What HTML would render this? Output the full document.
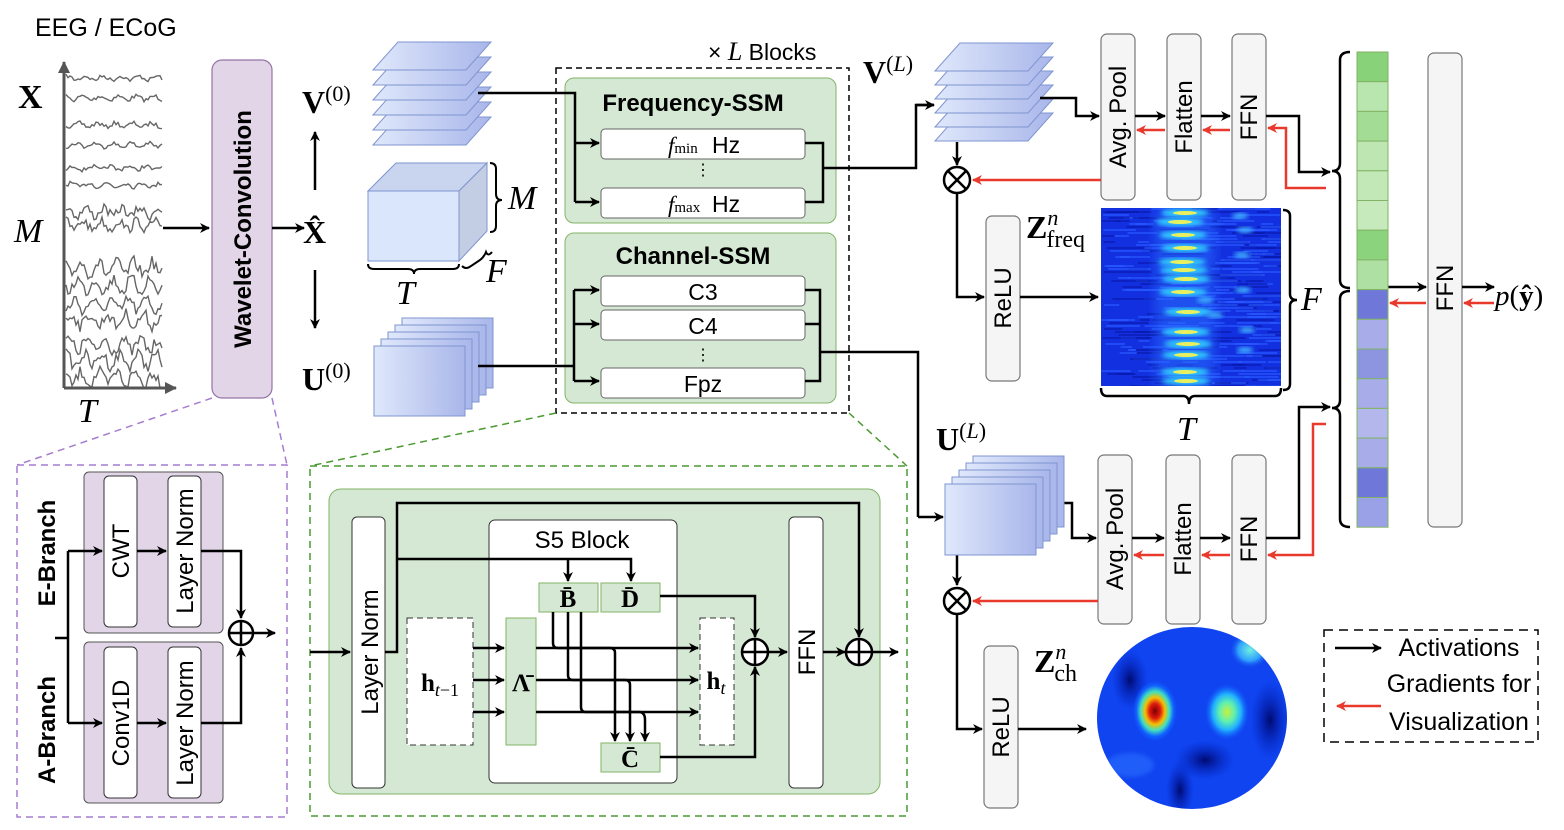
<!DOCTYPE html>
<html><head><meta charset="utf-8"><style>
html,body{margin:0;padding:0;background:#fff;}
svg{display:block;}
.s{font-family:"Liberation Sans",sans-serif;}
.m{font-family:"Liberation Serif",serif;}
</style></head><body>
<svg id="svg" width="1564" height="830" viewBox="0 0 1564 830" xmlns="http://www.w3.org/2000/svg">
<defs>
<marker id="a" markerWidth="10" markerHeight="10" refX="9" refY="5" orient="auto" markerUnits="userSpaceOnUse"><path d="M0,0 L10,5 L0,10 L3,5 z" fill="#000"/></marker>
<marker id="r" markerWidth="10" markerHeight="10" refX="9" refY="5" orient="auto" markerUnits="userSpaceOnUse"><path d="M0,0 L10,5 L0,10 L3,5 z" fill="#e8392c"/></marker>
<marker id="g" markerWidth="12" markerHeight="12" refX="11" refY="6" orient="auto" markerUnits="userSpaceOnUse"><path d="M0,0 L12,6 L0,12 z" fill="#555"/></marker>
<linearGradient id="bl" x1="0" x2="1" y1="0" y2="0"><stop offset="0" stop-color="#dfe8fb"/><stop offset="1" stop-color="#a9b6ea"/></linearGradient>
<filter id="bz"><feGaussianBlur stdDeviation="2.5"/></filter>
<filter id="bz2"><feGaussianBlur stdDeviation="6"/></filter>
<radialGradient id="hot"><stop offset="0" stop-color="#7a0000"/><stop offset="0.25" stop-color="#e01a10"/><stop offset="0.45" stop-color="#f5c000"/><stop offset="0.65" stop-color="#40e0c0"/><stop offset="0.85" stop-color="#1060ff"/><stop offset="1" stop-color="#1060ff" stop-opacity="0"/></radialGradient>
<radialGradient id="warm"><stop offset="0" stop-color="#c8f040"/><stop offset="0.35" stop-color="#60f0b0"/><stop offset="0.65" stop-color="#20b0ff"/><stop offset="1" stop-color="#1060ff" stop-opacity="0"/></radialGradient>
<radialGradient id="cy"><stop offset="0" stop-color="#70f0e0"/><stop offset="0.6" stop-color="#30a0ff"/><stop offset="1" stop-color="#1050f0" stop-opacity="0"/></radialGradient>
<radialGradient id="dk"><stop offset="0" stop-color="#000a70"/><stop offset="1" stop-color="#0020c0" stop-opacity="0"/></radialGradient>
<clipPath id="cp"><ellipse cx="1192" cy="718" rx="95" ry="91"/></clipPath>
<clipPath id="hc"><rect x="1101" y="208" width="180" height="178"/></clipPath>
</defs>

<!-- EEG -->
<text x="35" y="36" class="s" font-size="25">EEG / ECoG</text>
<g id="eeg" fill="none" stroke="#666" stroke-width="1.4"></g>
<line x1="64" y1="388" x2="64" y2="62" stroke="#555" stroke-width="3" marker-end="url(#g)"/>
<line x1="64" y1="388" x2="176" y2="388" stroke="#555" stroke-width="3" marker-end="url(#g)"/>
<text x="18" y="108" class="m" font-size="34" font-weight="bold">X</text>
<text x="14" y="242" class="m" font-size="34" font-style="italic">M</text>
<text x="78" y="422" class="m" font-size="34" font-style="italic">T</text>

<!-- Wavelet -->
<rect x="212" y="60" width="60" height="338" rx="10" fill="#e1d5e7" stroke="#9673a6" stroke-width="1.2"/>
<text transform="translate(251,229) rotate(-90)" text-anchor="middle" class="s" font-size="24" font-weight="bold">Wavelet-Convolution</text>
<line x1="163" y1="228" x2="209" y2="228" stroke="#000" stroke-width="2.5" marker-end="url(#a)"/>
<line x1="272" y1="228" x2="304" y2="228" stroke="#000" stroke-width="2.5" marker-end="url(#a)"/>
<text x="303" y="243" class="m" font-size="32" font-weight="bold">X̂</text>
<line x1="315" y1="190" x2="315" y2="132" stroke="#000" stroke-width="2.5" marker-end="url(#a)"/>
<line x1="315" y1="270" x2="315" y2="328" stroke="#000" stroke-width="2.5" marker-end="url(#a)"/>
<text x="302" y="113" class="m" font-size="32" font-weight="bold">V<tspan font-weight="normal" font-size="22" dy="-12">(0)</tspan></text>
<text x="302" y="390" class="m" font-size="32" font-weight="bold">U<tspan font-weight="normal" font-size="22" dy="-12">(0)</tspan></text>

<g id="v0" fill="url(#bl)" stroke="#7f95d0" stroke-width="1"></g>
<rect x="368" y="191" width="91" height="70" fill="#dae6fb" stroke="#7f95d0"/>
<polygon points="368,191 396,163 487,163 459,191" fill="#c9d4ee" stroke="#7f95d0"/>
<polygon points="459,191 487,163 487,231 459,261" fill="#c3cde3" stroke="#7f95d0"/>
<path d="M490,163 q6,0 6,6 v25 q0,6 6,6 q-6,0 -6,6 v20 q0,6 -6,6" fill="none" stroke="#000" stroke-width="2"/>
<path d="M368,264 q0,5 6,5 h34 q6,0 6,5 q0,-5 6,-5 h33 q6,0 6,-5" fill="none" stroke="#000" stroke-width="2"/>
<path d="M462,266 q4,4 9,0 l9,-6 q4,-3 6,-8 q2,5 6,0" fill="none" stroke="#000" stroke-width="2"/>
<text x="508" y="209" class="m" font-size="34" font-style="italic">M</text>
<text x="486" y="282" class="m" font-size="34" font-style="italic">F</text>
<text x="396" y="304" class="m" font-size="34" font-style="italic">T</text>
<g id="u0" fill="url(#bl)" stroke="#7f95d0" stroke-width="1"></g>

<text x="708" y="60" class="s" font-size="23">× <tspan class="m" font-style="italic" font-size="26">L</tspan> Blocks</text>
<rect x="556" y="68" width="293" height="345" fill="none" stroke="#000" stroke-width="1.5" stroke-dasharray="6,4"/>
<rect x="565" y="78" width="271" height="145" rx="9" fill="#d5e8d4" stroke="#82b366"/>
<text x="693" y="111" text-anchor="middle" class="s" font-size="24" font-weight="bold">Frequency-SSM</text>
<rect x="601" y="129" width="204" height="30" rx="4" fill="#fff" stroke="#666"/>
<rect x="601" y="188" width="204" height="30" rx="4" fill="#fff" stroke="#666"/>
<text x="668" y="153" class="m" font-size="23" font-style="italic">f<tspan font-style="normal" font-size="15">min</tspan></text><text x="712" y="153" class="s" font-size="23">Hz</text>
<text x="668" y="212" class="m" font-size="23" font-style="italic">f<tspan font-style="normal" font-size="15">max</tspan></text><text x="712" y="212" class="s" font-size="23">Hz</text>
<text x="703" y="175" text-anchor="middle" class="s" font-size="16">⋮</text>
<rect x="565" y="233" width="271" height="170" rx="9" fill="#d5e8d4" stroke="#82b366"/>
<text x="693" y="264" text-anchor="middle" class="s" font-size="24" font-weight="bold">Channel-SSM</text>
<rect x="601" y="276" width="204" height="30" rx="4" fill="#fff" stroke="#666"/>
<rect x="601" y="310" width="204" height="30" rx="4" fill="#fff" stroke="#666"/>
<rect x="601" y="368" width="204" height="30" rx="4" fill="#fff" stroke="#666"/>
<text x="703" y="300" text-anchor="middle" class="s" font-size="23">C3</text>
<text x="703" y="334" text-anchor="middle" class="s" font-size="23">C4</text>
<text x="703" y="360" text-anchor="middle" class="s" font-size="16">⋮</text>
<text x="703" y="392" text-anchor="middle" class="s" font-size="23">Fpz</text>
<g fill="none" stroke="#000" stroke-width="2.5">
<path d="M478,93 H575 V202"/>
<path d="M575,143 H599" marker-end="url(#a)"/><path d="M575,202 H599" marker-end="url(#a)"/>
<path d="M805,143 H823 V202 H805 M823,168 H916 V105 H934" /><path d="M916,105 H934" marker-end="url(#a)"/>
<path d="M478,366 H574 M574,290 V381"/>
<path d="M574,290 H599" marker-end="url(#a)"/><path d="M574,324 H599" marker-end="url(#a)"/><path d="M574,381 H599" marker-end="url(#a)"/>
<path d="M805,290 H820 V381 H805 M805,324 H820 M820,352 H918 V517"/><path d="M918,517 H943" marker-end="url(#a)"/>
</g>

<text x="863" y="83" class="m" font-size="32" font-weight="bold">V<tspan font-weight="normal" font-size="22" dy="-12">(<tspan font-style="italic">L</tspan>)</tspan></text>
<g id="vl" fill="url(#bl)" stroke="#7f95d0" stroke-width="1"></g>
<g fill="#f5f5f5" stroke="#777" stroke-width="1.2">
<rect x="1101" y="34" width="34" height="166" rx="6"/><rect x="1167" y="34" width="34" height="166" rx="6"/><rect x="1232" y="34" width="34" height="166" rx="6"/>
<rect x="986" y="216" width="34" height="165" rx="6"/>
<rect x="1098" y="455" width="34" height="169" rx="6"/><rect x="1166" y="455" width="34" height="169" rx="6"/><rect x="1232" y="455" width="34" height="169" rx="6"/>
<rect x="984" y="646" width="34" height="162" rx="6"/>
<rect x="1428" y="53" width="34" height="474" rx="6"/>
</g>
<g class="s" font-size="24" text-anchor="middle">
<text transform="translate(1126,117) rotate(-90)">Avg. Pool</text>
<text transform="translate(1192,117) rotate(-90)">Flatten</text>
<text transform="translate(1257,117) rotate(-90)">FFN</text>
<text transform="translate(1011,298) rotate(-90)">ReLU</text>
<text transform="translate(1123,539) rotate(-90)">Avg. Pool</text>
<text transform="translate(1191,539) rotate(-90)">Flatten</text>
<text transform="translate(1257,539) rotate(-90)">FFN</text>
<text transform="translate(1009,727) rotate(-90)">ReLU</text>
<text transform="translate(1453,288) rotate(-90)">FFN</text>
</g>
<g fill="none" stroke="#000" stroke-width="2.5">
<path d="M1040,98 H1076 V116 H1099" marker-end="url(#a)"/>
<path d="M1135,116 H1165" marker-end="url(#a)"/><path d="M1201,116 H1230" marker-end="url(#a)"/>
<path d="M1266,116 H1299 V172 H1330" marker-end="url(#a)"/>
<path d="M957,142 V165" marker-end="url(#a)"/>
<path d="M957,194 V297 H984" marker-end="url(#a)"/>
<path d="M1020,297 H1098" marker-end="url(#a)"/>
<path d="M1049,503 H1072 V538 H1096" marker-end="url(#a)"/>
<path d="M1132,538 H1164" marker-end="url(#a)"/><path d="M1200,538 H1230" marker-end="url(#a)"/>
<path d="M1266,538 H1299 V407 H1330" marker-end="url(#a)"/>
<path d="M957,555 V585" marker-end="url(#a)"/>
<path d="M957,615 V729 H982" marker-end="url(#a)"/>
<path d="M1018,729 H1086" marker-end="url(#a)"/>
<path d="M1388,287 H1426" marker-end="url(#a)"/>
<path d="M1462,287 H1494" marker-end="url(#a)"/>
</g>
<g fill="none" stroke="#e8392c" stroke-width="2.5">
<path d="M1165,130 H1137" marker-end="url(#r)"/><path d="M1230,130 H1203" marker-end="url(#r)"/>
<path d="M1326,188 H1286 V128 H1268" marker-end="url(#r)"/>
<path d="M1101,180 H973" marker-end="url(#r)"/>
<path d="M1164,555 H1134" marker-end="url(#r)"/><path d="M1230,555 H1202" marker-end="url(#r)"/>
<path d="M1326,424 H1313 V555 H1268" marker-end="url(#r)"/>
<path d="M1098,601 H973" marker-end="url(#r)"/>
<path d="M1426,303 H1390" marker-end="url(#r)"/>
<path d="M1494,303 H1464" marker-end="url(#r)"/>
</g>
<g fill="#fff" stroke="#000" stroke-width="2.5">
<circle cx="957" cy="180" r="13"/><circle cx="957" cy="601" r="13"/>
</g>
<path d="M948,171 L966,189 M966,171 L948,189 M948,592 L966,610 M966,592 L948,610" stroke="#000" stroke-width="2.5"/>

<text x="1026" y="238" class="m" font-size="32" font-weight="bold">Z<tspan font-weight="normal" font-size="22" dy="-13" font-style="italic">n</tspan><tspan font-weight="normal" font-size="24" dx="-12" dy="22">freq</tspan></text>
<rect x="1101" y="208" width="180" height="178" fill="#1230e0"/>
<g id="hm" clip-path="url(#hc)"></g>
<path d="M1283,210 q7,0 7,6 v78 q0,6 7,6 q-7,0 -7,6 v78 q0,6 -7,6" fill="none" stroke="#000" stroke-width="2.5"/>
<text x="1301" y="310" class="m" font-size="34" font-style="italic">F</text>
<path d="M1101,388 q0,8 6,8 h76 q6,0 6,8 q0,-8 6,-8 h80 q6,0 6,-8" fill="none" stroke="#000" stroke-width="2.5"/>
<text x="1177" y="440" class="m" font-size="34" font-style="italic">T</text>

<g id="vec" stroke="#82b366" stroke-width="1"></g>
<path d="M1350,52 q-10,0 -10,8 v103 q0,8 -8,8 q8,0 8,8 v101 q0,8 10,8" fill="none" stroke="#000" stroke-width="2.5"/>
<path d="M1350,291 q-10,0 -10,8 v101 q0,8 -8,8 q8,0 8,8 v103 q0,8 10,8" fill="none" stroke="#000" stroke-width="2.5"/>
<text x="1495" y="305" class="m" font-size="29" font-style="italic">p<tspan font-style="normal">(</tspan><tspan font-style="normal" font-weight="bold">ŷ</tspan><tspan font-style="normal">)</tspan></text>

<text x="936" y="450" class="m" font-size="32" font-weight="bold">U<tspan font-weight="normal" font-size="22" dy="-12">(<tspan font-style="italic">L</tspan>)</tspan></text>
<g id="ul" fill="url(#bl)" stroke="#7f95d0" stroke-width="1"></g>

<text x="1034" y="672" class="m" font-size="32" font-weight="bold">Z<tspan font-weight="normal" font-size="22" dy="-13" font-style="italic">n</tspan><tspan font-weight="normal" font-size="24" dx="-12" dy="22">ch</tspan></text>
<g clip-path="url(#cp)">
<rect x="1090" y="620" width="210" height="200" fill="#1044f0"/>
<ellipse cx="1130" cy="680" rx="18" ry="30" fill="url(#dk)"/>
<ellipse cx="1270" cy="720" rx="20" ry="40" fill="url(#dk)"/>
<ellipse cx="1180" cy="790" rx="14" ry="30" fill="url(#dk)"/>
<ellipse cx="1205" cy="760" rx="30" ry="20" fill="url(#dk)"/>
<ellipse cx="1250" cy="650" rx="20" ry="18" fill="url(#cy)"/>
<ellipse cx="1130" cy="765" rx="24" ry="12" fill="#2a70ff" opacity=".6" filter="url(#bz)"/>
<ellipse cx="1155" cy="711" rx="22" ry="30" fill="url(#hot)"/>
<ellipse cx="1227" cy="712" rx="22" ry="28" fill="url(#warm)"/>
</g>

<rect x="1324" y="630" width="214" height="112" fill="none" stroke="#000" stroke-width="1.5" stroke-dasharray="9,6"/>
<line x1="1335" y1="648" x2="1381" y2="648" stroke="#000" stroke-width="2.5" marker-end="url(#a)"/>
<line x1="1381" y1="706" x2="1337" y2="706" stroke="#e8392c" stroke-width="2.5" marker-end="url(#r)"/>
<g class="s" font-size="25" text-anchor="middle">
<text x="1459" y="656">Activations</text>
<text x="1459" y="692">Gradients for</text>
<text x="1459" y="730">Visualization</text>
</g>

<g fill="none" stroke-width="1.5" stroke-dasharray="7,5">
<path d="M212,398 L17,465 M272,398 L287,465" stroke="#a67dd0"/>
<rect x="17" y="465" width="270" height="352" stroke="#a67dd0"/>
<path d="M556,413 L310,466 M849,413 L907,466" stroke="#4a9a30"/>
<rect x="310" y="466" width="597" height="350" stroke="#4a9a30"/>
</g>

<rect x="84" y="472" width="139" height="161" rx="5" fill="#e1d5e7" stroke="#555"/>
<rect x="84" y="642" width="139" height="161" rx="5" fill="#e1d5e7" stroke="#555"/>
<g fill="#fff" stroke="#333">
<rect x="104" y="476" width="33" height="151" rx="5"/><rect x="168" y="476" width="33" height="151" rx="5"/>
<rect x="104" y="647" width="33" height="151" rx="5"/><rect x="168" y="647" width="33" height="151" rx="5"/>
</g>
<g class="s" font-size="24" text-anchor="middle">
<text transform="translate(129,551) rotate(-90)">CWT</text>
<text transform="translate(193,551) rotate(-90)">Layer Norm</text>
<text transform="translate(129,723) rotate(-90)">Conv1D</text>
<text transform="translate(193,723) rotate(-90)">Layer Norm</text>
<text transform="translate(55,553) rotate(-90)" font-weight="bold">E-Branch</text>
<text transform="translate(55,730) rotate(-90)" font-weight="bold">A-Branch</text>
</g>
<g fill="none" stroke="#000" stroke-width="2.5">
<path d="M55,638 H68 M68,551 V723"/>
<path d="M68,551 H102" marker-end="url(#a)"/><path d="M68,723 H102" marker-end="url(#a)"/>
<path d="M137,551 H166" marker-end="url(#a)"/><path d="M137,723 H166" marker-end="url(#a)"/>
<path d="M201,551 H241 V618" marker-end="url(#a)"/><path d="M201,723 H241 V648" marker-end="url(#a)"/>
<path d="M254,633 H275" marker-end="url(#a)"/>
<circle cx="241" cy="633" r="12" fill="#fff"/>
<path d="M229,633 H253 M241,621 V645"/>
</g>

<rect x="329" y="489" width="551" height="305" rx="12" fill="#d5e8d4" stroke="#82b366"/>
<rect x="352" y="517" width="33" height="271" rx="5" fill="#fff" stroke="#333"/>
<rect x="789" y="517" width="34" height="271" rx="5" fill="#fff" stroke="#333"/>
<rect x="489" y="520" width="188" height="263" rx="6" fill="#fff" stroke="#333"/>
<text x="582" y="548" text-anchor="middle" class="s" font-size="24">S5 Block</text>
<rect x="407" y="618" width="66" height="127" fill="#fff" stroke="#333" stroke-dasharray="6,4"/>
<rect x="700" y="618" width="34" height="127" fill="#fff" stroke="#333" stroke-dasharray="6,4"/>
<g fill="#d5e8d4" stroke="#82b366">
<rect x="506" y="618" width="30" height="127"/>
<rect x="539" y="583" width="59" height="29"/><rect x="601" y="583" width="59" height="29"/>
<rect x="601" y="743" width="59" height="29"/>
</g>
<g class="s" font-size="24" text-anchor="middle">
<text transform="translate(378,652) rotate(-90)">Layer Norm</text>
<text transform="translate(815,652) rotate(-90)">FFN</text>
</g>
<g class="m" font-size="25" font-weight="bold" text-anchor="middle">
<text x="568" y="607">B̄</text><text x="630" y="607">D̄</text><text x="630" y="767">C̄</text>
<text x="521" y="691">Λ̄</text>
<text x="440" y="691">h<tspan font-weight="normal" font-style="italic" font-size="18" dy="5">t</tspan><tspan font-weight="normal" font-size="18">−1</tspan></text>
<text x="716" y="689">h<tspan font-weight="normal" font-style="italic" font-size="18" dy="5">t</tspan></text>
</g>
<g fill="none" stroke="#000" stroke-width="2.5">
<path d="M310,652 H350" marker-end="url(#a)"/>
<path d="M385,652 H397 V503 H859 V637" marker-end="url(#a)"/>
<path d="M397,559 H631 V581" marker-end="url(#a)"/>
<path d="M568,559 V581" marker-end="url(#a)"/>
<path d="M473,648 H504" marker-end="url(#a)"/><path d="M473,680 H504" marker-end="url(#a)"/><path d="M473,712 H504" marker-end="url(#a)"/>
<path d="M536,648 H698" marker-end="url(#a)"/><path d="M536,680 H698" marker-end="url(#a)"/><path d="M536,712 H698" marker-end="url(#a)"/>
<path d="M553,612 V643 q0,5 5,5 h52 q5,0 5,5 V741" marker-end="url(#a)"/>
<path d="M568,612 V675 q0,5 5,5 h52 q5,0 5,5 V741" marker-end="url(#a)"/>
<path d="M581,612 V707 q0,5 5,5 h53 q6,0 6,8 V741" marker-end="url(#a)"/>
<path d="M660,596 H755 V637" marker-end="url(#a)"/>
<path d="M660,757 H755 V667" marker-end="url(#a)"/>
<path d="M768,652 H787" marker-end="url(#a)"/>
<path d="M823,652 H845" marker-end="url(#a)"/>
<path d="M872,652 H898" marker-end="url(#a)"/>
<circle cx="755" cy="652" r="13" fill="#fff"/><path d="M742,652 H768 M755,639 V665"/>
<circle cx="859" cy="652" r="13" fill="#fff"/><path d="M846,652 H872 M859,639 V665"/>
</g>
</svg>
<script>
(function(){
var NS="http://www.w3.org/2000/svg";
function el(p,t,a){var e=document.createElementNS(NS,t);for(var k in a)e.setAttribute(k,a[k]);p.appendChild(e);return e;}
var seed=7;function rnd(){seed=(seed*16807)%2147483647;return (seed-1)/2147483646;}
var g=document.getElementById("eeg");
var ys=[78,98,125,145,168,185,212,225,268,285,305,320,345,360,378];
ys.forEach(function(y,i){var amp=i<6?4:(i<8?9:12);var d="";for(var x=66;x<=163;x+=2){var v=y+(Math.sin(x*0.35+i)*0.5+ (rnd()-0.5))*amp;d+=(x==66?"M":"L")+x+","+v.toFixed(1);}el(g,"path",{d:d});});
function slabs(id,x0,y0,n,dy,w,sk,h){var g=document.getElementById(id);for(var i=n-1;i>=0;i--){var y=y0+i*dy;el(g,"polygon",{points:[x0,y+h,x0+sk,y,x0+sk+w,y,x0+w,y+h].join(" ")});}}
slabs("v0",373,42,6,15,93,25,28);
slabs("vl",935,43,6,14,93,25,28);
function rects(id,bx,by,n,dx,w,h){var g=document.getElementById(id);for(var i=n-1;i>=0;i--){el(g,"rect",{x:bx+i*dx,y:by-i*dx,width:w,height:h});}}
rects("u0",374,346,5,7,91,70);
rects("ul",945,484,5,7,91,71);
var hm=document.getElementById("hm");
for(var y=208;y<386;y+=3){for(var k=0;k<5;k++){var x=1101+rnd()*170;el(hm,"rect",{x:x,y:y,width:10+rnd()*40,height:2,fill:rnd()<0.6?"#2a5cff":"#0818a8",opacity:0.6});}}
el(hm,"rect",{x:1155,y:208,width:60,height:178,fill:"#2a70ff",opacity:0.5,filter:"url(#bz2)"});
var blobs=[[1185,213],[1180,222],[1183,235],[1185,248],[1182,262],[1184,270],[1186,279],[1183,292],[1188,312],[1186,332],[1188,344],[1186,355],[1185,372],[1186,381]];
blobs.forEach(function(b){el(hm,"ellipse",{cx:b[0],cy:b[1],rx:24,ry:4,fill:"#30d0ff",filter:"url(#bz)"});el(hm,"ellipse",{cx:b[0],cy:b[1],rx:12,ry:2,fill:"#e8f060"});});
[[1240,216],[1245,230],[1242,255],[1243,290],[1247,330],[1245,350],[1205,300],[1215,315]].forEach(function(b){el(hm,"ellipse",{cx:b[0],cy:b[1],rx:8,ry:3,fill:"#40b0ff",filter:"url(#bz)"});});
var cols=["#88d27a","#b9e5ae","#a3dc95","#bde6b2","#c1e8b6","#c6eabb","#8bd37d","#afe0a3","#6f78d8","#a8ace8","#8d94e0","#a8ace8","#b4b7ec","#a8ace8","#6f78d8","#9ba1e6"];
var vg=document.getElementById("vec");
for(var i=0;i<16;i++){el(vg,"rect",{x:1357,y:(52+i*29.7).toFixed(1),width:31,height:29.7,fill:cols[i]});}
})();
</script>
</body></html>
